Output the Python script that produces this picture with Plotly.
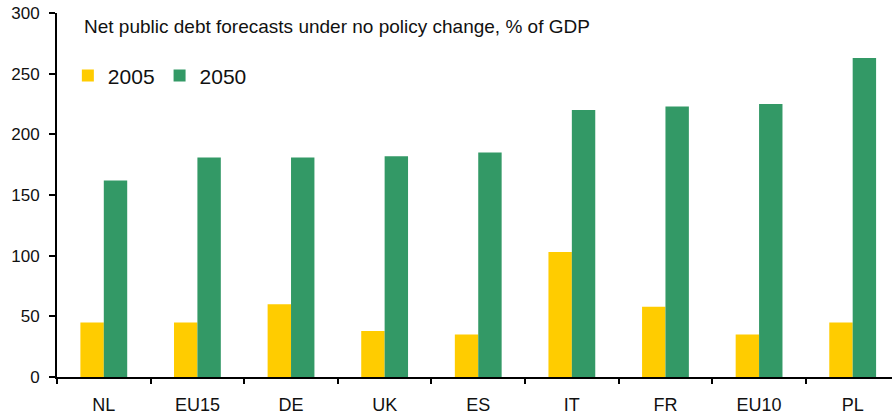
import plotly.graph_objects as go

# Net public debt, % of GDP
countries = ["NL", "EU15", "DE", "UK", "ES", "IT", "FR", "EU10", "PL"]
debt_2005 = [45, 45, 60, 38, 35, 103, 58, 35, 45]
debt_2050 = [162, 181, 181, 182, 185, 220, 223, 225, 263]
y_ticks = [0, 50, 100, 150, 200, 250, 300]

FONT = "Liberation Sans, Arial, sans-serif"

fig = go.Figure()
fig.add_trace(go.Bar(name="2005", x=countries, y=debt_2005,
                     marker=dict(color="#FFCC00", line=dict(width=0))))
fig.add_trace(go.Bar(name="2050", x=countries, y=debt_2050,
                     marker=dict(color="#339966", line=dict(width=0))))

fig.update_layout(
    width=892, height=416,
    margin=dict(l=57, r=0, t=13, b=39),
    paper_bgcolor="white", plot_bgcolor="white",
    barmode="group", bargap=0.5, bargroupgap=0,
    font=dict(family=FONT, color="#111111", size=17),
    showlegend=True,
    legend=dict(orientation="h", x=0.013, y=0.827, xanchor="left", yanchor="middle",
                font=dict(size=21), itemwidth=30, bgcolor="rgba(0,0,0,0)"),
    annotations=[dict(text="Net public debt forecasts under no policy change, % of GDP",
                      xref="paper", yref="paper", x=0.03, y=0.962,
                      xanchor="left", yanchor="middle", showarrow=False,
                      font=dict(size=19))],
)
fig.update_xaxes(range=[-0.5, 8.42], showline=True, linecolor="black", linewidth=2,
                 ticks="outside", tickson="boundaries", ticklen=5, tickwidth=1.5,
                 tickcolor="black", ticklabelstandoff=10, tickfont=dict(size=18),
                 automargin=False, showgrid=False, zeroline=False, fixedrange=True)
fig.update_yaxes(range=[0, 300], tickvals=y_ticks, showline=True, linecolor="black",
                 linewidth=2, ticks="outside", ticklen=6, tickwidth=1.5, tickcolor="black",
                 ticklabelstandoff=6, tickfont=dict(size=17), automargin=False,
                 showgrid=False, zeroline=False, fixedrange=True)

fig.write_html("out.html")
